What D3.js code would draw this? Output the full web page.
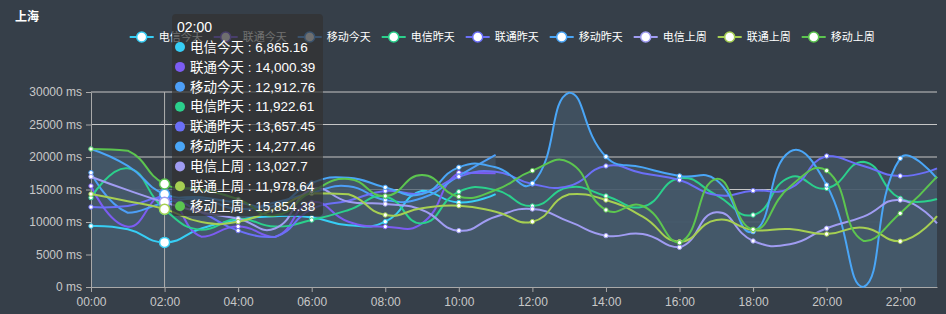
<!DOCTYPE html>
<html>
<head>
<meta charset="utf-8">
<script src="https://cdn.jsdelivr.net/npm/d3@7"></script>
<style>
  body { margin: 0; background: #363f49; }
  svg { display: block; font-family: "Liberation Sans", "Noto Sans CJK SC", sans-serif; }
</style>
</head>
<body>
<svg id="chart" width="946" height="314"></svg>
<script>
// hours on the x axis
var hours = ['00:00','01:00','02:00','03:00','04:00','05:00','06:00','07:00','08:00','09:00','10:00','11:00',
             '12:00','13:00','14:00','15:00','16:00','17:00','18:00','19:00','20:00','21:00','22:00','23:00'];
var yTicks = [0, 5000, 10000, 15000, 20000, 25000, 30000];

// today only runs to 11:00
var dianxinToday  = [9380, 8870, 6865.16, 9000, 10300, 10900, 10700, 9500, 10050, 14800, 13000, 14300];
var liantongToday = [15540, 9280, 14000.39, 7740, 9300, 7700, 13000, 10050, 9280, 9790, 17590, 17500];
var yidongToday   = [17590, 11430, 12912.76, 13500, 12000, 13000, 14500, 15500, 13380, 13700, 17100, 20310];

var dianxinYest  = [13740, 18260, 11922.61, 8800, 10500, 9300, 10300, 11850, 13900, 9790, 14660, 14920,
                    12460, 15330, 14000, 12360, 16720, 14150, 11080, 16870, 15180, 19280, 13640, 13540];
var liantongYest = [12300, 12460, 13657.45, 11500, 8670, 7700, 12000, 13280, 14770, 14410, 16970, 17740,
                    15850, 15540, 18620, 17490, 16460, 14150, 14820, 15180, 20150, 18620, 17080, 18260];
var yidongYest   = [21230, 18620, 14277.46, 13800, 13000, 12500, 16000, 16820, 15330, 14300, 18410, 18410,
                    15950, 29900, 20050, 18400, 17080, 16460, 8510, 20820, 15690, 0, 19790, 16720];

var dianxinLast  = [16970, 14900, 13027.7, 11500, 10500, 9000, 15000, 13130, 12770, 11850, 8670, 10820,
                    12000, 10050, 7900, 8150, 6100, 11490, 7080, 6560, 9030, 10820, 13380, 9790];
var liantongLast = [14300, 13200, 11978.64, 10000, 10050, 12000, 14410, 14260, 11080, 12100, 12510, 11590,
                    10050, 14260, 13380, 10820, 6970, 10300, 8770, 8920, 8150, 9130, 7030, 10920];
var yidongLast   = [21230, 20970, 15854.38, 15000, 13500, 11000, 14660, 16620, 14000, 17230, 13900, 14920,
                    17900, 19180, 11850, 12460, 6820, 16620, 8870, 15430, 17900, 7080, 11330, 16970];

var seriesNames  = ['电信今天','联通今天','移动今天','电信昨天','联通昨天','移动昨天','电信上周','联通上周','移动上周'];
var seriesValues = [dianxinToday, liantongToday, yidongToday, dianxinYest, liantongYest, yidongYest,
                    dianxinLast, liantongLast, yidongLast];
var colors = ['#37cef5','#7c5cf2','#4d9ff7','#2bd08c','#6b6ff7','#4aa6f7','#a09cf2','#a6cf52','#5cc54f'];

var hoverIndex = 2;

// echarts style smooth line (smooth 0.5, control points kept inside the points' box)
var SMOOTH = 0.5;
function EchartsSmooth(context) { this._context = context; }
EchartsSmooth.prototype = {
  areaStart: function() { this._line = 0; },
  areaEnd: function() { this._line = NaN; },
  lineStart: function() { this._pts = []; },
  point: function(x, y) { this._pts.push([+x, +y]); },
  lineEnd: function() {
    var p = this._pts, n = p.length, c = this._context;
    if (n) {
      if (this._line) c.lineTo(p[0][0], p[0][1]); else c.moveTo(p[0][0], p[0][1]);
      var x0 = d3.min(p, d => d[0]), x1 = d3.max(p, d => d[0]),
          y0 = d3.min(p, d => d[1]), y1 = d3.max(p, d => d[1]);
      var clamp = function(q) {
        return [Math.max(x0, Math.min(x1, q[0])), Math.max(y0, Math.min(y1, q[1]))];
      };
      var cps = [p[0]];
      for (var i = 1; i < n - 1; i++) {
        var a = p[i - 1], b = p[i], e = p[i + 1];
        var vx = (e[0] - a[0]) * SMOOTH, vy = (e[1] - a[1]) * SMOOTH;
        var d0 = Math.hypot(b[0] - a[0], b[1] - a[1]), d1 = Math.hypot(e[0] - b[0], e[1] - b[1]);
        var s = d0 + d1;
        if (s) { d0 /= s; d1 /= s; }
        cps.push(clamp([b[0] - vx * d0, b[1] - vy * d0]));
        cps.push(clamp([b[0] + vx * d1, b[1] + vy * d1]));
      }
      cps.push(p[n - 1]);
      for (var j = 1; j < n; j++) {
        var c0 = cps[2 * j - 2], c1 = cps[2 * j - 1];
        c.bezierCurveTo(c0[0], c0[1], c1[0], c1[1], p[j][0], p[j][1]);
      }
    }
    if (this._line || (this._line !== 0 && n === 1)) c.closePath();
    this._line = 1 - this._line;
  }
};
var smoothCurve = function(context) { return new EchartsSmooth(context); };

const svg = d3.select('#chart'),
  margin = {top: 92, right: 9, bottom: 27, left: 91},
  width = +svg.attr('width') - margin.left - margin.right,
  height = +svg.attr('height') - margin.top - margin.bottom;

const x = d3.scalePoint().domain(hours).range([margin.left, margin.left + width]);
const y = d3.scaleLinear().domain([0, 30000]).range([margin.top + height, margin.top]);

// title
svg.append('text')
  .attr('x', 15).attr('y', 21)
  .attr('fill', '#fff').attr('font-size', 12).attr('font-weight', 'bold')
  .text('上海');

// grid lines
svg.append('g').selectAll('line')
  .data(yTicks).enter().append('line')
  .attr('x1', margin.left).attr('x2', margin.left + width)
  .attr('y1', d => y(d)).attr('y2', d => y(d))
  .attr('stroke', '#c6c6c6').attr('stroke-width', 1);

// areas then lines
const area = d3.area()
  .x((d, i) => x(hours[i]))
  .y0(y(0))
  .y1(d => y(d))
  .curve(smoothCurve);
const line = d3.line()
  .x((d, i) => x(hours[i]))
  .y(d => y(d))
  .curve(smoothCurve);

svg.append('g').selectAll('path')
  .data(seriesValues).enter().append('path')
  .attr('d', d => area(d))
  .attr('fill', 'rgb(68,89,106)')
  .attr('fill-opacity', 0.7);

// axes
const yAxis = svg.append('g')
  .attr('transform', `translate(${margin.left},0)`)
  .call(d3.axisLeft(y).tickValues(yTicks).tickFormat(d => d + ' ms').tickSize(5).tickSizeOuter(0).tickPadding(4));
const xAxis = svg.append('g')
  .attr('transform', `translate(0,${margin.top + height})`)
  .call(d3.axisBottom(x).tickValues(hours.filter((h, i) => i % 2 === 0)).tickSize(5).tickSizeOuter(0).tickPadding(5));
[yAxis, xAxis].forEach(function(ax) {
  ax.select('.domain').attr('stroke', '#a9a9a9');
  ax.selectAll('.tick line').attr('stroke', '#a9a9a9');
  ax.selectAll('.tick text').attr('fill', '#c8c8c8').attr('font-size', 12)
    .attr('font-family', '"Liberation Sans", sans-serif');
});

// axis pointer
svg.append('line')
  .attr('x1', x(hours[hoverIndex])).attr('x2', x(hours[hoverIndex]))
  .attr('y1', margin.top).attr('y2', margin.top + height)
  .attr('stroke', '#b0b0b0').attr('stroke-width', 1);

svg.append('g').selectAll('path')
  .data(seriesValues).enter().append('path')
  .attr('d', d => line(d))
  .attr('fill', 'none')
  .attr('stroke', (d, i) => colors[i])
  .attr('stroke-width', 2);

// symbols on every second hour, hovered hour drawn large
seriesValues.forEach(function(vals, s) {
  const pts = vals.map((v, i) => ({v: v, i: i})).filter(p => p.i % 2 === 0);
  svg.append('g').selectAll('circle')
    .data(pts).enter().append('circle')
    .attr('cx', p => x(hours[p.i]))
    .attr('cy', p => y(p.v))
    .attr('r', p => p.i === hoverIndex ? 5 : 2.2)
    .attr('fill', '#fff')
    .attr('stroke', colors[s])
    .attr('stroke-width', p => p.i === hoverIndex ? 1.5 : 1);
});

// legend
const legend = svg.append('g').selectAll('g')
  .data(seriesNames).enter().append('g')
  .attr('transform', (d, i) => `translate(${141.7 + 84 * i},37)`);
legend.append('line')
  .attr('x1', -12).attr('x2', 12)
  .attr('stroke', (d, i) => colors[i]).attr('stroke-width', 2);
legend.append('circle')
  .attr('r', 5).attr('fill', '#fff')
  .attr('stroke', (d, i) => colors[i]).attr('stroke-width', 1.5);
legend.append('text')
  .attr('x', 17).attr('dy', '0.35em')
  .attr('fill', '#fff').attr('font-size', 11)
  .text(d => d);

// tooltip
const fmt = d3.format(',');
const tip = svg.append('g');
tip.append('rect')
  .attr('x', 172).attr('y', 14).attr('width', 151).attr('height', 202).attr('rx', 4)
  .attr('fill', 'rgba(50,50,50,0.7)');
tip.append('text')
  .attr('x', 177).attr('y', 32)
  .attr('fill', '#fff').attr('font-size', 14)
  .text(hours[hoverIndex]);
const rows = tip.selectAll('g.row')
  .data(seriesNames).enter().append('g')
  .attr('transform', (d, i) => `translate(180,${47 + 19.9 * i})`);
rows.append('circle').attr('r', 5).attr('fill', (d, i) => colors[i]);
rows.append('text')
  .attr('x', 10).attr('dy', '0.35em')
  .attr('fill', '#fff').attr('font-size', 13.5)
  .text((d, i) => d + ' : ' + fmt(seriesValues[i][hoverIndex]));
</script>
</body>
</html>
